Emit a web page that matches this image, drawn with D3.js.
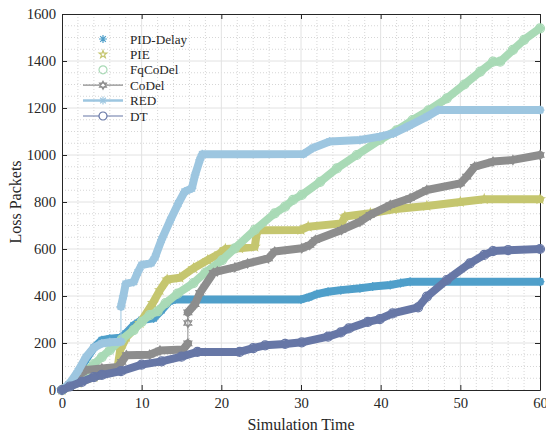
<!DOCTYPE html>
<html>
<head>
<meta charset="utf-8">
<script src="https://cdn.jsdelivr.net/npm/d3@7"></script>
<style>
  body { margin: 0; background: #fff; }
  svg text { font-family: "Liberation Serif", "Times New Roman", serif; fill: #262626; }
</style>
</head>
<body>
<div id="chart"></div>
<script>
// tick values
const xTicks = [0, 10, 20, 30, 40, 50, 60];
const yTicks = [0, 200, 400, 600, 800, 1000, 1200, 1400, 1600];

// [simulation time, loss packets]
const pidDelay = [[0, 0], [1, 25], [2, 70], [3, 130], [4, 180], [5, 212], [6, 218], [7.3, 222], [8, 240], [9, 275],
  [10, 298], [11.5, 305], [12.5, 340], [13.5, 378], [14.2, 385], [30, 385], [31, 395], [32, 408], [33.4, 418],
  [35, 425], [37.4, 433], [39, 440], [41.2, 447], [42.5, 455], [43.7, 461], [60, 461]];

const pie = [[0, 0], [2, 30], [4, 55], [6, 75], [7, 100], [7.3, 170], [8.1, 226], [9.8, 285], [11.4, 370], [12.3, 425],
  [13.2, 470], [14.8, 478], [16.5, 518], [18.3, 553], [19.8, 581], [20.5, 600], [22.3, 603], [24.2, 610], [24.5, 680],
  [30, 681], [30.9, 695], [35.1, 709], [35.5, 738], [38.7, 752], [41.6, 769], [45.8, 783], [50, 800], [53, 812], [60, 812]];

const fqCoDel = [[0, 0], [1, 20], [2, 45], [3, 80], [4, 110], [5, 140], [6, 170], [7.5, 215], [9, 255], [10, 290],
  [11, 319], [12, 335], [13, 370], [14.5, 410], [16.5, 455], [18, 500], [20.1, 553], [21.7, 603], [24.2, 681],
  [26.7, 752], [28, 780], [29, 809], [30.1, 830], [32.4, 886], [34.5, 943], [37, 1000], [39.9, 1064], [42, 1105],
  [44, 1149], [46, 1190], [48.3, 1241], [50.5, 1300], [52.5, 1355], [54.1, 1397], [55, 1397], [56.6, 1447],
  [58, 1490], [60, 1539]];

const coDel = [[0, 0], [1, 25], [2, 60], [3, 85], [5, 92], [7, 98], [7.5, 120], [8.1, 148], [11, 150], [12.3, 168],
  [15.2, 172], [15.8, 198], [15.8, 285], [15.8, 330], [16.7, 365], [17.3, 413], [19, 498], [19.5, 505], [21.7, 522],
  [23.3, 539], [25.9, 560], [26.7, 589], [30.1, 603], [31.1, 617], [31.8, 638], [35.1, 681], [37.4, 716], [38.7, 745],
  [41.2, 787], [43.7, 816], [45.8, 851], [50, 879], [50.8, 908], [51.8, 950], [54.1, 972], [56.6, 979], [60, 1000]];

const red = [[0, 0], [1, 30], [2, 80], [3, 140], [4, 180], [5, 198], [6, 203], [7.4, 205], [7.4, 355], [7.7, 400],
  [8, 452], [9, 460], [9.5, 500], [10, 532], [11.2, 540], [11.7, 567], [12.5, 640], [13.6, 723], [14.6, 794],
  [15.4, 844], [16.3, 858], [16.7, 915], [17.3, 979], [17.6, 1003], [30.3, 1004], [31.5, 1030], [33.6, 1057],
  [37.4, 1064], [39.9, 1078], [41.6, 1092], [43.3, 1120], [45.8, 1163], [47.2, 1191], [60, 1191]];

const dt = [[0, 0], [1, 15], [2.5, 35], [4, 55], [5, 64], [7.4, 80], [10, 108], [12.5, 122], [15, 142], [17, 162],
  [22.3, 162], [24, 178], [25.5, 190], [28, 196], [30.1, 203], [33.4, 227], [35, 245], [36, 262], [38.4, 290],
  [39.9, 302], [41.5, 326], [44.7, 352], [45.8, 397], [48.3, 468], [51.2, 539], [53, 575], [54.1, 591], [56, 595],
  [60, 600]];

const seriesNames = ['PID-Delay', 'PIE', 'FqCoDel', 'CoDel', 'RED', 'DT'];
const seriesData = [pidDelay, pie, fqCoDel, coDel, red, dt];
const seriesColors = ['#4f9fca', '#c5c66f', '#a9dab6', '#8d8d8d', '#9dc6e0', '#6777a6'];
const seriesMarkers = ['asterisk', 'star', 'circle', 'hexagram', 'asterisk', 'circle'];
const seriesHasLine = [false, false, false, true, true, true];

const W = 546, H = 433;
const margin = {top: 14, right: 6, bottom: 43, left: 62};
const innerW = W - margin.left - margin.right;
const innerH = H - margin.top - margin.bottom;

const svg = d3.select('#chart').append('svg')
  .attr('width', W)
  .attr('height', H);

const g = svg.append('g')
  .attr('transform', `translate(${margin.left}, ${margin.top})`);

const xScale = d3.scaleLinear().domain([0, 60]).range([0, innerW]);
const yScale = d3.scaleLinear().domain([0, 1600]).range([innerH, 0]);

// marker shapes as path strings
function markerPath(type, r) {
  const p = d3.path();
  if (type === 'circle') {
    p.moveTo(r, 0);
    p.arc(0, 0, r, 0, 2 * Math.PI);
  } else if (type === 'asterisk') {
    for (let k = 0; k < 4; k++) {
      const a = k * Math.PI / 4;
      p.moveTo(-r * Math.cos(a), -r * Math.sin(a));
      p.lineTo(r * Math.cos(a), r * Math.sin(a));
    }
  } else if (type === 'star') {
    for (let k = 0; k < 10; k++) {
      const a = -Math.PI / 2 + k * Math.PI / 5;
      const rr = k % 2 ? r * 0.4 : r;
      k ? p.lineTo(rr * Math.cos(a), rr * Math.sin(a)) : p.moveTo(rr * Math.cos(a), rr * Math.sin(a));
    }
    p.closePath();
  } else if (type === 'hexagram') {
    for (const off of [-Math.PI / 2, Math.PI / 2]) {
      for (let k = 0; k < 3; k++) {
        const a = off + k * 2 * Math.PI / 3;
        k ? p.lineTo(r * Math.cos(a), r * Math.sin(a)) : p.moveTo(r * Math.cos(a), r * Math.sin(a));
      }
      p.closePath();
    }
  }
  return p.toString();
}

// grid
const minorX = d3.range(0, 61, 2).filter(v => v % 10 !== 0);
const minorY = d3.range(0, 1601, 50).filter(v => v % 200 !== 0);

const gridMinor = g.append('g').attr('class', 'grid-minor');
gridMinor.selectAll('line.mx').data(minorX).join('line')
  .attr('class', 'mx')
  .attr('x1', d => xScale(d)).attr('x2', d => xScale(d))
  .attr('y1', 0).attr('y2', innerH)
  .attr('stroke', '#d6d6d6').attr('stroke-dasharray', '1,2');
gridMinor.selectAll('line.my').data(minorY).join('line')
  .attr('class', 'my')
  .attr('x1', 0).attr('x2', innerW)
  .attr('y1', d => yScale(d)).attr('y2', d => yScale(d))
  .attr('stroke', '#d6d6d6').attr('stroke-dasharray', '1,2');

const gridMajor = g.append('g').attr('class', 'grid-major');
gridMajor.selectAll('line.gx').data(xTicks.slice(1, -1)).join('line')
  .attr('class', 'gx')
  .attr('x1', d => xScale(d)).attr('x2', d => xScale(d))
  .attr('y1', 0).attr('y2', innerH)
  .attr('stroke', '#e2e2e2');
gridMajor.selectAll('line.gy').data(yTicks.slice(1, -1)).join('line')
  .attr('class', 'gy')
  .attr('x1', 0).attr('x2', innerW)
  .attr('y1', d => yScale(d)).attr('y2', d => yScale(d))
  .attr('stroke', '#e2e2e2');

// axes (drawn under the data, like the reference)
function styleAxis(sel) {
  sel.selectAll('path.domain').attr('stroke', '#262626');
  sel.selectAll('.tick line').attr('stroke', '#262626');
  sel.selectAll('.tick text').attr('font-size', '14.7px').attr('fill', '#262626');
}

g.append('g')
  .attr('transform', `translate(0, ${innerH})`)
  .call(d3.axisBottom(xScale).tickValues(xTicks).tickSizeInner(-5).tickSizeOuter(0).tickPadding(8).tickFormat(d3.format('d')))
  .call(styleAxis);
g.append('g')
  .call(d3.axisTop(xScale).tickValues(xTicks).tickSizeInner(-5).tickSizeOuter(0).tickFormat(''))
  .call(styleAxis);
g.append('g')
  .call(d3.axisLeft(yScale).tickValues(yTicks).tickSizeInner(-5).tickSizeOuter(0).tickPadding(6).tickFormat(d3.format('d')))
  .call(styleAxis);
g.append('g')
  .attr('transform', `translate(${innerW}, 0)`)
  .call(d3.axisRight(yScale).tickValues(yTicks).tickSizeInner(-5).tickSizeOuter(0).tickFormat(''))
  .call(styleAxis);

// series: thick band made of dense markers, thin connecting line through vertical jumps
const line = d3.line()
  .x(d => xScale(d[0]))
  .y(d => yScale(d[1]));

seriesData.forEach((data, i) => {
  const sg = g.append('g').attr('class', 'series');

  // split into runs at vertical jumps (same time, different loss)
  const runs = [];
  let run = [data[0]];
  for (let k = 1; k < data.length; k++) {
    if (data[k][0] === data[k - 1][0]) {
      runs.push(run);
      run = [data[k]];
    } else {
      run.push(data[k]);
    }
  }
  runs.push(run);

  sg.append('path')
    .datum(data)
    .attr('d', line)
    .attr('fill', 'none')
    .attr('stroke', seriesColors[i])
    .attr('stroke-width', 1);

  runs.filter(r => r.length > 1).forEach(r => {
    sg.append('path')
      .datum(r)
      .attr('d', line)
      .attr('fill', 'none')
      .attr('stroke', seriesColors[i])
      .attr('stroke-width', 8)
      .attr('stroke-linejoin', 'round')
      .attr('stroke-linecap', 'round');
  });

  sg.selectAll('path.marker').data(data).join('path')
    .attr('class', 'marker')
    .attr('transform', d => `translate(${xScale(d[0])}, ${yScale(d[1])})`)
    .attr('d', markerPath(seriesMarkers[i], 4.5))
    .attr('fill', 'none')
    .attr('stroke', seriesColors[i])
    .attr('stroke-width', 1.2);
});

// axis labels
svg.append('text')
  .attr('x', margin.left + innerW / 2)
  .attr('y', 430)
  .attr('text-anchor', 'middle')
  .attr('font-size', '16px')
  .text('Simulation Time');

svg.append('text')
  .attr('transform', `translate(21, ${margin.top + innerH / 2}) rotate(-90)`)
  .attr('text-anchor', 'middle')
  .attr('font-size', '16px')
  .text('Loss Packets');

// legend
const legend = svg.append('g').attr('class', 'legend');
seriesNames.forEach((name, i) => {
  const ly = 39 + i * 15.4;
  const row = legend.append('g').attr('transform', `translate(0, ${ly})`);
  if (seriesHasLine[i]) {
    row.append('line')
      .attr('x1', 83).attr('x2', 123)
      .attr('stroke', seriesColors[i])
      .attr('stroke-width', name === 'RED' ? 2.5 : 1.2);
  }
  row.append('path')
    .attr('transform', 'translate(103, 0)')
    .attr('d', markerPath(seriesMarkers[i], 4))
    .attr('fill', seriesHasLine[i] ? '#fff' : 'none')
    .attr('stroke', seriesColors[i])
    .attr('stroke-width', 1.2);
  row.append('text')
    .attr('x', 130)
    .attr('dy', '0.35em')
    .attr('font-size', '13.2px')
    .text(name);
});
</script>
</body>
</html>
